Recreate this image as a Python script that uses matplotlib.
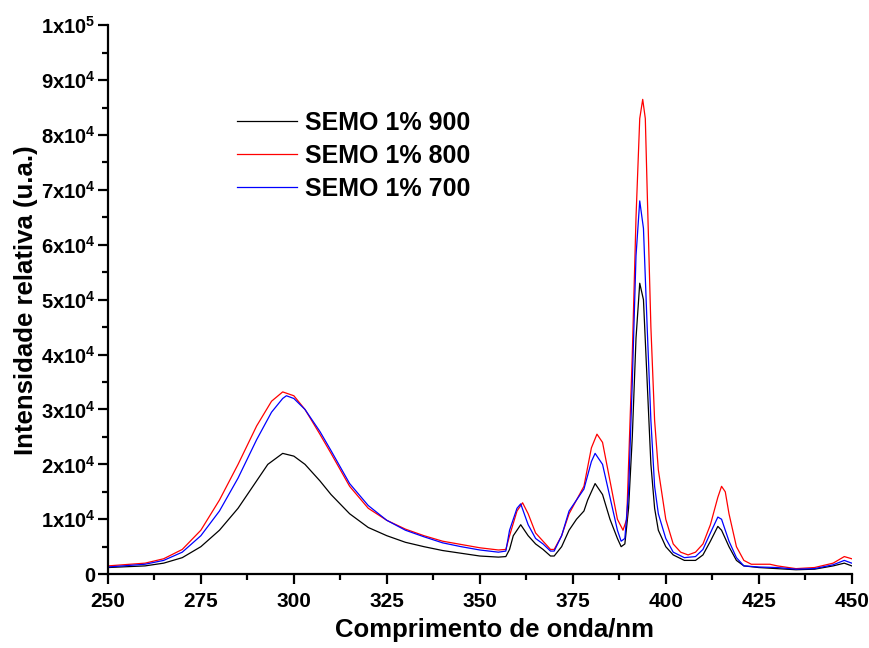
import numpy as np
import matplotlib
matplotlib.use("Agg")
import matplotlib.pyplot as plt
from matplotlib.ticker import MultipleLocator, FuncFormatter

plt.rcParams['font.family'] = ['Liberation Sans', 'DejaVu Sans']
plt.rcParams['font.weight'] = 'bold'
plt.rcParams['mathtext.fontset'] = 'custom'
plt.rcParams['mathtext.rm'] = 'Liberation Sans:bold'
plt.rcParams['mathtext.bf'] = 'Liberation Sans:bold'
plt.rcParams['mathtext.default'] = 'rm'

# Datos (intensidad en unidades de 1e4)
wl_900 = [250, 260, 265, 270, 275, 280, 285, 290, 293, 297, 300, 303, 307, 310, 315, 320,
          325, 330, 335, 340, 345, 350, 355, 357, 358, 359, 361, 363, 365, 367, 369, 370,
          372, 374, 376, 378, 379, 381, 383, 385, 387, 388, 389, 390, 391, 392, 393, 394,
          395, 396, 397, 398, 400, 402, 405, 408, 410, 412, 414, 415, 417, 419, 421, 425,
          430, 435, 440, 445, 448, 450]
int_900 = [0.12, 0.15, 0.2, 0.3, 0.5, 0.8, 1.2, 1.7, 2.0, 2.2, 2.15, 2.0, 1.7, 1.45, 1.1, 0.85,
           0.7, 0.58, 0.5, 0.43, 0.38, 0.33, 0.31, 0.32, 0.45, 0.7, 0.9, 0.7, 0.55, 0.45, 0.33, 0.33,
           0.5, 0.8, 1.0, 1.15, 1.35, 1.65, 1.45, 1.0, 0.65, 0.5, 0.55, 1.2, 2.5, 4.3, 5.3, 5.0,
           3.5, 2.0, 1.2, 0.8, 0.5, 0.35, 0.25, 0.25, 0.35, 0.6, 0.87, 0.8, 0.5, 0.25, 0.15, 0.12,
           0.1, 0.08, 0.09, 0.15, 0.2, 0.15]

wl_800 = [250, 260, 265, 270, 275, 280, 285, 290, 294, 297, 300, 303, 307, 310, 315, 320,
          325, 330, 335, 340, 345, 350, 355, 357, 358, 360, 361.5, 363, 365, 367, 369, 370,
          372, 374, 376, 378, 380, 381.5, 383, 385, 387, 388.5, 389.5, 390, 391, 392, 393, 393.8,
          394.5, 395, 396, 397, 398, 400, 402, 404, 406, 408, 410, 412, 414, 415, 416, 417,
          419, 421, 423, 428, 430, 435, 440, 445, 448, 450]
int_800 = [0.15, 0.2, 0.28, 0.45, 0.8, 1.35, 2.0, 2.7, 3.15, 3.32, 3.25, 3.0, 2.55, 2.2, 1.6, 1.2,
           0.98, 0.82, 0.7, 0.6, 0.54, 0.48, 0.44, 0.45, 0.7, 1.15, 1.3, 1.1, 0.75, 0.6, 0.45, 0.45,
           0.7, 1.1, 1.35, 1.6, 2.3, 2.55, 2.4, 1.7, 1.0, 0.8, 1.0, 2.0, 4.0, 6.5, 8.3, 8.65,
           8.3, 7.0, 4.5, 2.8, 1.9, 1.0, 0.55, 0.4, 0.35, 0.4, 0.55, 0.9, 1.4, 1.6, 1.5, 1.1,
           0.5, 0.25, 0.18, 0.18, 0.15, 0.1, 0.12, 0.2, 0.32, 0.28]

wl_700 = [250, 260, 265, 270, 275, 280, 285, 290, 294, 297, 298, 300, 303, 307, 310, 315,
          320, 325, 330, 335, 340, 345, 350, 355, 357, 358, 360, 361, 363, 365, 367, 369,
          370, 372, 374, 376, 378, 380, 381, 383, 385, 387, 388, 389, 390, 391, 392, 393,
          394, 395, 396, 397, 398, 400, 402, 405, 408, 410, 412, 414, 415, 417, 419, 421,
          425, 430, 435, 440, 445, 448, 450]
int_700 = [0.13, 0.18, 0.25, 0.4, 0.7, 1.15, 1.75, 2.45, 2.95, 3.2, 3.25, 3.2, 3.0, 2.6, 2.25, 1.65,
           1.25, 0.98, 0.8, 0.68, 0.57, 0.5, 0.44, 0.4, 0.42, 0.8, 1.2, 1.28, 0.9, 0.65, 0.55, 0.42,
           0.42, 0.7, 1.15, 1.35, 1.55, 2.05, 2.2, 2.0, 1.4, 0.8, 0.6, 0.65, 1.5, 3.5, 5.8, 6.8,
           6.3, 4.5, 2.8, 1.6, 1.1, 0.65, 0.4, 0.3, 0.32, 0.45, 0.75, 1.04, 1.0, 0.6, 0.3, 0.15,
           0.13, 0.12, 0.09, 0.1, 0.17, 0.25, 0.2]

labels = ['SEMO 1% 900', 'SEMO 1% 800', 'SEMO 1% 700']
colors = ['black', 'red', 'blue']

fig = plt.figure(figsize=(8.7, 6.48), dpi=100)
ax = fig.add_axes([0.124, 0.114, 0.855, 0.847])

series = [(wl_900, int_900), (wl_800, int_800), (wl_700, int_700)]
for (x, y), lab, c in zip(series, labels, colors):
    ax.plot(x, np.array(y) * 1e4, color=c, lw=0.9, label=lab)

ax.set_xlim(250, 450)
ax.set_ylim(0, 1e5)
ax.xaxis.set_major_locator(MultipleLocator(25))
ax.xaxis.set_minor_locator(MultipleLocator(12.5))
ax.yaxis.set_major_locator(MultipleLocator(1e4))
ax.yaxis.set_minor_locator(MultipleLocator(5e3))


def fmt_y(v, pos):
    if v <= 0.5:
        return '0' if abs(v) < 0.5 else ''
    e = int(np.floor(np.log10(v) + 1e-9))
    m = int(round(v / 10 ** e))
    return '%dx10$^{%d}$' % (m, e)


ax.yaxis.set_major_formatter(FuncFormatter(fmt_y))

for s in ['top', 'right']:
    ax.spines[s].set_visible(False)
for s in ['left', 'bottom']:
    ax.spines[s].set_linewidth(1.6)
ax.tick_params(which='major', direction='out', length=7, width=1.6, labelsize=15)
ax.tick_params(axis='x', which='major', pad=6)
ax.tick_params(axis='y', which='major', pad=2, labelsize=14.5)
ax.tick_params(which='minor', direction='out', length=4, width=1.6)

ax.set_xlabel('Comprimento de onda/nm', fontsize=18.5, fontweight='bold')
ax.xaxis.set_label_coords(0.52, -0.08)
ax.set_ylabel('Intensidade relativa (u.a.)', fontsize=18.5, fontweight='bold', labelpad=2)

leg = ax.legend(loc='upper left', bbox_to_anchor=(0.173, 0.844), frameon=False,
                fontsize=18, borderpad=0, borderaxespad=0, handlelength=2.4,
                handletextpad=0.35, labelspacing=0.36)

plt.savefig('out.png', dpi=100)
